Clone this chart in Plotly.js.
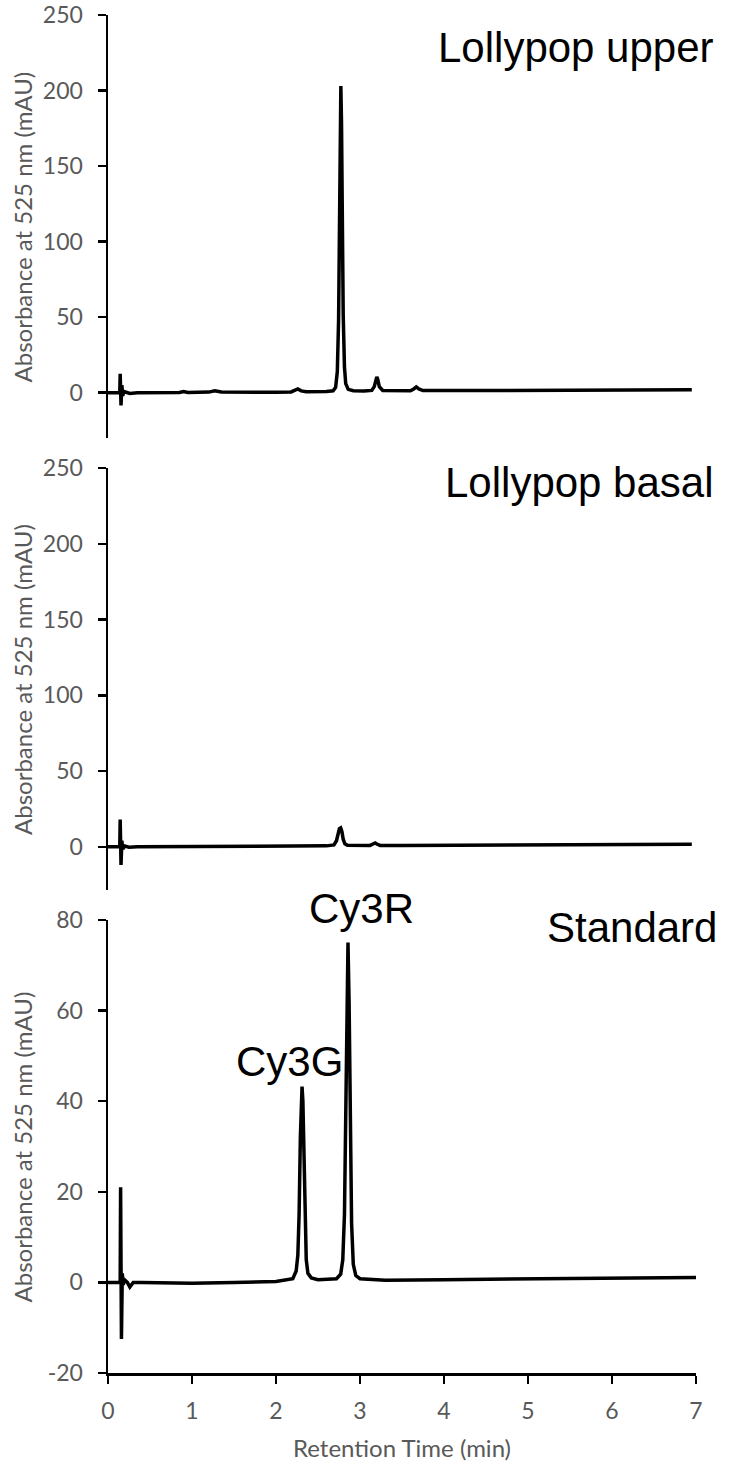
<!DOCTYPE html>
<html>
<head>
<meta charset="utf-8">
<script src="https://cdn.plot.ly/plotly-3.0.1.min.js"></script>
<style>html,body{margin:0;padding:0;background:#fff}#chart{width:729px;height:1469px}</style>
</head>
<body>
<div id="chart"></div>
<script>
// Lollypop upper
const upperX = [0, 0.1, 0.14, 0.145, 0.155, 0.165, 0.175, 0.19, 0.22, 0.26, 0.35, 0.6, 0.85, 0.9, 0.95, 1.2, 1.27, 1.35, 1.6, 2.0, 2.18, 2.22, 2.26, 2.3, 2.36, 2.6, 2.68, 2.71, 2.73, 2.745, 2.755, 2.765, 2.772, 2.78, 2.79, 2.80, 2.815, 2.83, 2.86, 2.92, 3.05, 3.14, 3.17, 3.19, 3.2, 3.21, 3.23, 3.27, 3.4, 3.6, 3.64, 3.67, 3.7, 3.75, 4.5, 5.5, 6.5, 6.95];
const upperY = [0, 0, 0, 12.5, -8.5, 5, -2, 0.8, 0, -0.5, 0, 0, 0.1, 0.8, 0.1, 0.4, 1.2, 0.4, 0.2, 0.3, 0.5, 1.8, 2.5, 1.2, 0.6, 0.8, 1.3, 3.5, 14, 48, 110, 178, 203, 178, 108, 52, 17, 6, 2.2, 1.3, 1.1, 1.5, 4, 9, 10.5, 9, 4, 1.5, 1.2, 1.3, 2.5, 3.8, 2.5, 1.4, 1.4, 1.6, 1.9, 2.0];
// Lollypop basal
const basalX = [0, 0.1, 0.14, 0.145, 0.155, 0.165, 0.175, 0.2, 0.25, 0.35, 1.0, 2.0, 2.2, 2.6, 2.69, 2.72, 2.74, 2.755, 2.77, 2.785, 2.80, 2.82, 2.85, 2.95, 3.12, 3.16, 3.18, 3.2, 3.24, 3.5, 4.5, 5.5, 6.5, 6.95];
const basalY = [0, 0, 0, 18, -12, 4, -1.5, 0.5, -0.3, 0, 0, 0.2, 0.5, 0.6, 1.2, 4, 9, 12, 12.5, 10, 5, 2, 1, 0.8, 0.9, 2, 2.5, 1.8, 0.9, 0.9, 1.1, 1.3, 1.5, 1.6];
// Standard
const stdX = [0, 0.1, 0.145, 0.15, 0.16, 0.17, 0.18, 0.2, 0.23, 0.26, 0.3, 0.4, 1.0, 1.5, 2.0, 2.2, 2.24, 2.26, 2.275, 2.29, 2.3, 2.31, 2.32, 2.33, 2.345, 2.36, 2.38, 2.42, 2.5, 2.72, 2.77, 2.795, 2.815, 2.83, 2.845, 2.857, 2.87, 2.885, 2.9, 2.92, 2.95, 3.0, 3.3, 4, 5, 6, 7];
const stdY = [0, 0, 0, 21, -12.5, 2, -0.5, 0.5, 0, -1, 0, 0, -0.2, 0, 0.2, 0.8, 2.5, 6, 15, 32, 41, 43.2, 40, 30, 14, 5, 2, 1, 0.6, 0.8, 1.8, 5, 15, 35, 62, 75, 62, 35, 13, 4, 1.5, 0.8, 0.5, 0.6, 0.8, 1.0, 1.1];

const panelLabels = ["Lollypop upper", "Lollypop basal", "Standard"];
const peakLabels = ["Cy3G", "Cy3R"];
const yTicksTop = [0, 50, 100, 150, 200, 250];
const yTicksStd = [-20, 0, 20, 40, 60, 80];
const xTicks = [0, 1, 2, 3, 4, 5, 6, 7];
const yTitle = "Absorbance at 525 nm (mAU)";
const xTitle = "Retention Time (min)";

const gray = "#595959";
const sansFam = "Lato, 'Open Sans', sans-serif";
const arialFam = "'Liberation Sans', Arial, sans-serif";
const tickFont = {family: sansFam, size: 23, color: gray};
const titleFont = {family: sansFam, size: 24, color: gray};
const bigFont = {family: arialFam, size: 42, color: "#000"};
const line = {color: "#000", width: 3.5};

const domTop = [0.6885, 1.0], domMid = [0.3557, 0.6664], domBot = [0, 0.3336];

const traces = [
  {x: upperX, y: upperY, xaxis: "x", yaxis: "y", mode: "lines", line: line, showlegend: false},
  {x: basalX, y: basalY, xaxis: "x2", yaxis: "y2", mode: "lines", line: line, showlegend: false},
  {x: stdX, y: stdY, xaxis: "x3", yaxis: "y3", mode: "lines", line: line, showlegend: false}
];

function yax(domain, range, ticks, anchor) {
  return {
    domain: domain, range: range, anchor: anchor,
    tickmode: "array", tickvals: ticks, ticktext: ticks.map(String),
    showgrid: false, zeroline: false, showline: true, linecolor: "#000", linewidth: 2.5,
    ticks: "outside", ticklen: 8, tickwidth: 2.5, tickcolor: "#000",
    tickfont: tickFont, ticklabelstandoff: 10
  };
}
function xhidden(anchor) {
  return {domain: [0, 1], range: [0, 7], anchor: anchor, showline: false, showgrid: false, zeroline: false, showticklabels: false, ticks: ""};
}
function ytitleAnn(dom) {
  return {text: yTitle, xref: "paper", yref: "paper", x: -0.1446, y: (dom[0] + dom[1]) / 2, xanchor: "center", yanchor: "middle", textangle: -90, showarrow: false, font: titleFont};
}

const layout = {
  width: 729, height: 1469,
  margin: {l: 108, r: 33, t: 15, b: 96},
  paper_bgcolor: "#fff", plot_bgcolor: "#fff",
  xaxis: xhidden("y"),
  xaxis2: xhidden("y2"),
  xaxis3: {
    domain: [0, 1], range: [0, 7], anchor: "y3",
    tickmode: "array", tickvals: xTicks, ticktext: xTicks.map(String),
    showgrid: false, zeroline: false, showline: true, linecolor: "#000", linewidth: 2.5,
    ticks: "outside", ticklen: 8, tickwidth: 2.5, tickcolor: "#000",
    tickfont: tickFont, ticklabelstandoff: 8
  },
  yaxis: yax(domTop, [-30, 250], yTicksTop, "x"),
  yaxis2: yax(domMid, [-28.5, 250], yTicksTop, "x2"),
  yaxis3: yax(domBot, [-20, 80], yTicksStd, "x3"),
  annotations: [
    ytitleAnn(domTop), ytitleAnn(domMid), ytitleAnn(domBot),
    {text: xTitle, xref: "paper", yref: "paper", x: 0.5, y: -0.0552, xanchor: "center", yanchor: "middle", showarrow: false, font: titleFont},
    {text: panelLabels[0], xref: "paper", yref: "paper", x: 1.034, y: 0.9764, xanchor: "right", yanchor: "middle", showarrow: false, font: bigFont},
    {text: panelLabels[1], xref: "paper", yref: "paper", x: 1.034, y: 0.6554, xanchor: "right", yanchor: "middle", showarrow: false, font: bigFont},
    {text: panelLabels[2], xref: "paper", yref: "paper", x: 1.039, y: 0.3284, xanchor: "right", yanchor: "middle", showarrow: false, font: bigFont},
    {text: peakLabels[0], xref: "paper", yref: "paper", x: (289.5 - 108) / 588, y: (1373 - 1061) / 1358, xanchor: "center", yanchor: "middle", showarrow: false, font: bigFont},
    {text: peakLabels[1], xref: "paper", yref: "paper", x: (361.5 - 108) / 588, y: (1373 - 908) / 1358, xanchor: "center", yanchor: "middle", showarrow: false, font: bigFont}
  ]
};

Plotly.newPlot("chart", traces, layout, {displayModeBar: false, staticPlot: true});
</script>
</body>
</html>
